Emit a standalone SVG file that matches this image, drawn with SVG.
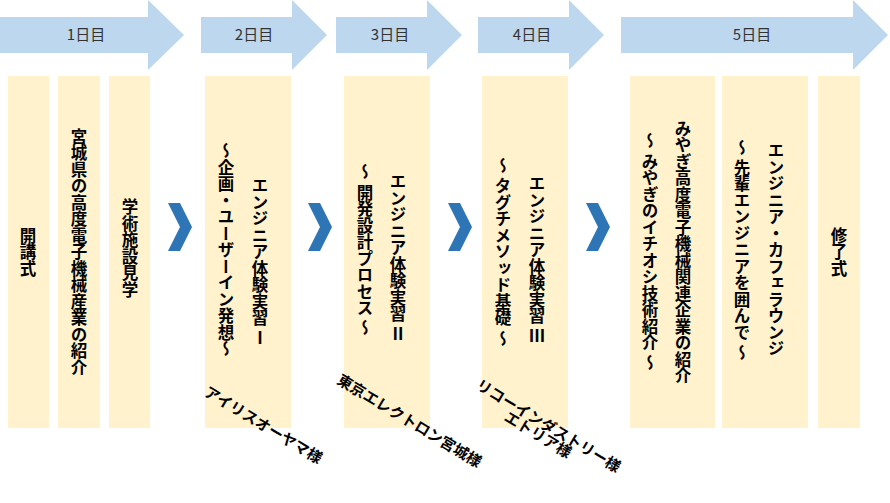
<svg xmlns="http://www.w3.org/2000/svg" width="890" height="503" viewBox="0 0 890 503">
<style>
.arr{fill:#BDD7EE}
.col{fill:#FFF2CC}
.chev{fill:#2E75B6}
.day{font-family:"Noto Sans CJK JP","Liberation Sans",sans-serif;font-size:15px;fill:#333;text-anchor:middle}
.v{font-family:"Noto Sans CJK JP",sans-serif;font-size:16.5px;font-weight:bold;fill:#000;writing-mode:vertical-rl;text-anchor:middle}
.r{font-family:"Noto Sans CJK JP",sans-serif;font-size:15px;font-weight:bold;fill:#000}
</style>
<rect width="890" height="503" fill="#fff"/>
<g id="days">
<polygon class="arr" points="0,17 148,17 148,0 184,35 148,70 148,53 0,53"/>
<polygon class="arr" points="201,17 292,17 292,0 327,35 292,70 292,53 201,53"/>
<polygon class="arr" points="336,17 427,17 427,0 462,35 427,70 427,53 336,53"/>
<polygon class="arr" points="478,17 569,17 569,0 604,35 569,70 569,53 478,53"/>
<polygon class="arr" points="621,17 853,17 853,0 888,35 853,70 853,53 621,53"/>
<text class="day" x="86" y="40">1日目</text>
<text class="day" x="254" y="40">2日目</text>
<text class="day" x="390" y="40">3日目</text>
<text class="day" x="532" y="40">4日目</text>
<text class="day" x="752" y="40">5日目</text>
</g>
<g id="c1"><rect class="col" x="8" y="76" width="41" height="352"/><text class="v" x="28" y="252">開講式</text></g>
<g id="c2"><rect class="col" x="58" y="76" width="42" height="352"/><text class="v" x="79" y="252">宮城県の高度電子機械産業の紹介</text></g>
<g id="c3"><rect class="col" x="109" y="76" width="41" height="352"/><text class="v" x="130" y="248">学術施設見学</text></g>
<g id="c4"><rect class="col" x="205" y="76" width="86" height="352"/><text class="v" x="260" y="262">エンジニア体験実習 Ⅰ</text><text class="v" x="226" y="250">～企画・ユーザーイン発想～</text></g>
<g id="c5"><rect class="col" x="344" y="76" width="86" height="352"/><text class="v" x="398" y="258">エンジニア体験実習 Ⅱ</text><text class="v" x="365" y="250">～ 開発設計プロセス ～</text></g>
<g id="c6"><rect class="col" x="482" y="76" width="86" height="352"/><text class="v" x="537" y="260">エンジニア体験実習 Ⅲ</text><text class="v" x="503" y="252">～ タグチメソッド基礎 ～</text></g>
<g id="c7"><rect class="col" x="630" y="76" width="85" height="352"/><text class="v" x="683" y="252">みやぎ高度電子機械関連企業の紹介</text><text class="v" x="650" y="252">～ みやぎのイチオシ技術紹介 ～</text></g>
<g id="c8"><rect class="col" x="722" y="76" width="86" height="352"/><text class="v" x="776" y="250">エンジニア・カフェラウンジ</text><text class="v" x="742" y="250">～ 先輩エンジニアを囲んで ～</text></g>
<g id="c9"><rect class="col" x="818" y="76" width="42" height="352"/><text class="v" x="839" y="252">修了式</text></g>
<g id="connectors">
<polygon class="chev" points="168,203 180,203 192,227 180,251 168,251 180,227"/>
<polygon class="chev" points="308,203 320,203 332,227 320,251 308,251 320,227"/>
<polygon class="chev" points="448,203 460,203 472,227 460,251 448,251 460,227"/>
<polygon class="chev" points="586,203 598,203 610,227 598,251 586,251 598,227"/>
</g>
<g id="sponsors">
<text class="r" transform="translate(203,395) rotate(31)">アイリスオーヤマ様</text>
<text class="r" transform="translate(336,383) rotate(31)">東京エレクトロン宮城様</text>
<text class="r" transform="translate(475,388) rotate(31)">リコーインダストリー様</text>
<text class="r" transform="translate(503,420) rotate(31)">エトリア様</text>
</g>
</svg>
